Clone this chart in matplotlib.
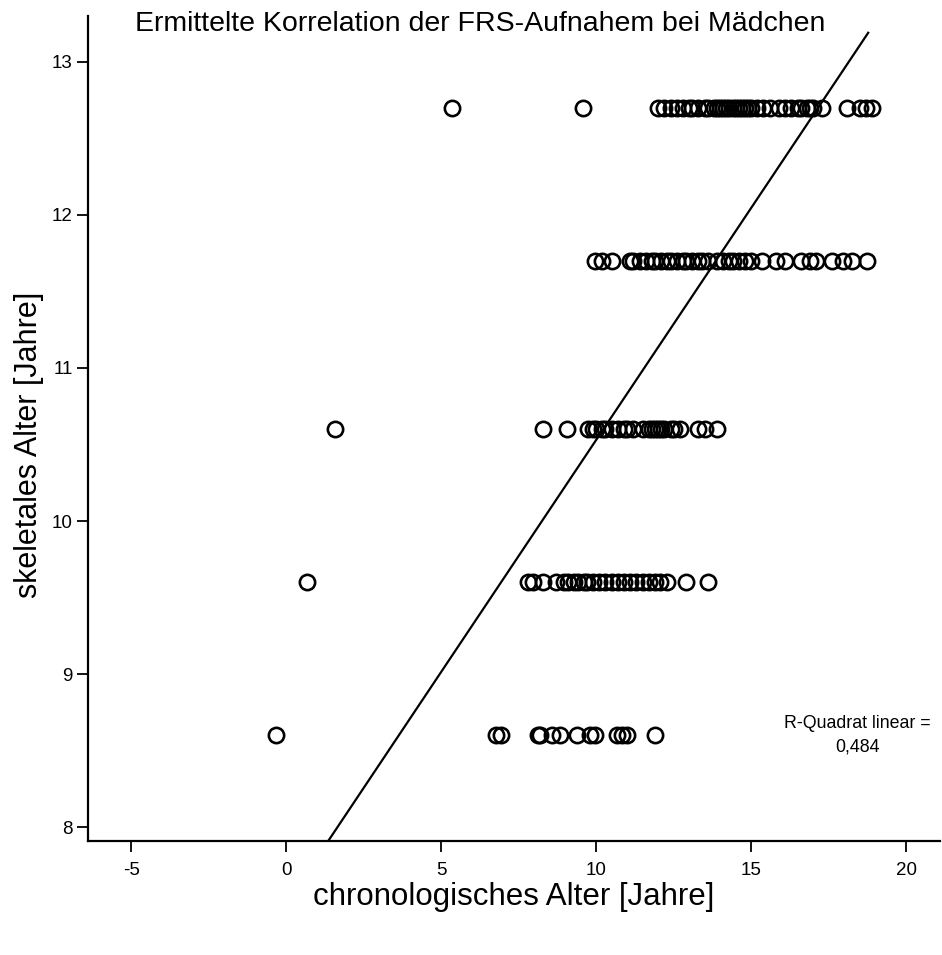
import numpy as np
import matplotlib
matplotlib.use("Agg")
import matplotlib.pyplot as plt

plt.rcParams['font.family'] = ['Liberation Sans', 'DejaVu Sans']
plt.rcParams['axes.unicode_minus'] = False

# chronologisches Alter je Stufe des skelettalen Alters
x_127 = [5.35, 9.58, 12.0, 12.2, 12.4, 12.6, 12.8, 13.0, 13.1, 13.3, 13.5, 13.6, 13.8,
         13.9, 14.0, 14.1, 14.2, 14.3, 14.4, 14.5, 14.6, 14.7, 14.8, 14.9, 15.0, 15.2,
         15.4, 15.6, 15.9, 16.1, 16.3, 16.5, 16.6, 16.8, 16.9, 17.0, 17.3, 18.1,
         18.5, 18.7, 18.9]
x_117 = [9.97, 10.2, 10.5, 11.1, 11.2, 11.4, 11.6, 11.8, 11.9, 12.1, 12.3, 12.4,
         12.6, 12.8, 12.9, 13.1, 13.3, 13.4, 13.6, 13.9, 14.1, 14.3, 14.4, 14.6,
         14.8, 15.0, 15.35, 15.8, 16.1, 16.6, 16.9, 17.1, 17.6, 17.97, 18.25,
         18.75]
x_106 = [1.58, 8.29, 9.06, 9.75, 9.9, 10.0, 10.2, 10.3, 10.5, 10.7, 10.9, 11.0,
         11.2, 11.5, 11.7, 11.8, 11.9, 12.0, 12.1, 12.2, 12.4, 12.5, 12.7, 13.3,
         13.5, 13.9]
x_96 = [0.67, 7.8, 7.97, 8.3, 8.7, 8.95, 9.1, 9.3, 9.4, 9.6, 9.7, 9.9, 10.1,
        10.3, 10.5, 10.7, 10.9, 11.1, 11.3, 11.5, 11.7, 11.9, 12.06, 12.3,
        12.9, 13.6]
x_86 = [-0.32, 6.77, 6.94, 8.13, 8.2, 8.58, 8.84, 9.39, 9.8, 9.97, 10.68, 10.84,
        11.0, 11.9]
stufen = [12.7, 11.7, 10.6, 9.6, 8.6]

# Regressionsgerade
steigung = 0.303
achsenabschnitt = 7.50
r2_text = "R-Quadrat linear =\n0,484"

fig = plt.figure(figsize=(9.42, 9.55), dpi=100)
ax = fig.add_axes([0.0934, 0.1194, 0.9046, 0.8639])

for y, xs in zip(stufen, [x_127, x_117, x_106, x_96, x_86]):
    ax.plot(xs, [y] * len(xs), 'o', mfc='none', mec='black', ms=11, mew=1.9,
            linestyle='none')

xlim = (-6.4, 21.1)
ylim = (7.91, 13.3)
y_ende = 13.19
xx = np.array([(ylim[0] - achsenabschnitt) / steigung,
               (y_ende - achsenabschnitt) / steigung])
ax.plot(xx, achsenabschnitt + steigung * xx, color='black', lw=1.6)

ax.set_xlim(*xlim)
ax.set_ylim(*ylim)
ax.set_xticks([-5, 0, 5, 10, 15, 20])
ax.set_yticks([8, 9, 10, 11, 12, 13])
for s in ['top', 'right']:
    ax.spines[s].set_visible(False)
for s in ['left', 'bottom']:
    ax.spines[s].set_linewidth(1.6)
ax.tick_params(direction='out', length=8, width=1.3, labelsize=13.5)
ax.tick_params(axis='x', pad=7)
ax.tick_params(axis='y', pad=3)

ax.set_xlabel('chronologisches Alter [Jahre]', fontsize=22.5)
ax.set_ylabel('skeletales Alter [Jahre]', fontsize=22)
ax.xaxis.set_label_coords(0.5, -0.05)
ax.yaxis.set_label_coords(-0.052, 0.48)
fig.text(0.51, 0.975, 'Ermittelte Korrelation der FRS-Aufnahem bei Mädchen',
         ha='center', va='center', fontsize=20.5)
ax.text(18.42, 8.6, r2_text, ha='center', va='center', fontsize=12.8,
        linespacing=1.45)

fig.savefig('out.png', dpi=100)
